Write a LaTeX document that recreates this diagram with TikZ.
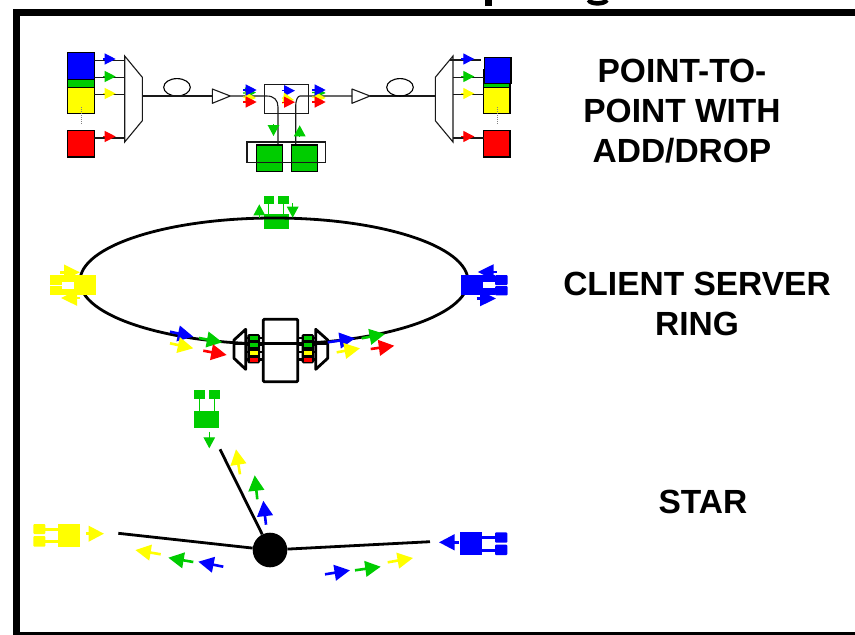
\documentclass[tikz,border=0pt]{standalone}
\usepackage{fontspec}
\setmainfont{Liberation Sans}
\usetikzlibrary{arrows.meta,shapes.geometric}
\definecolor{cb}{HTML}{0000FF}
\definecolor{cg}{HTML}{00CC00}
\definecolor{cy}{HTML}{FFFF00}
\definecolor{cr}{HTML}{FF0000}
\tikzset{
  box/.style={inner sep=0pt,outer sep=0pt,rectangle},
  thin line/.style={line width=1.1pt,black!90},
  outlined/.style={draw=black,line width=1.1pt},
  thick line/.style={line width=2.8pt,black},
  small arrow/.style={line width=1.2pt,-{Triangle[length=11pt,width=11pt]}},
  big arrow/.style={line width=2.6pt,-{Triangle[length=15.5pt,width=15.5pt]}},
  mid arrow/.style={line width=1.2pt,-{Triangle[length=11pt,width=11.5pt]}},
  node arrow/.style={line width=2.4pt,-{Triangle[length=16pt,width=15pt]}},
  label text/.style={font=\fontsize{33.5}{40}\selectfont\bfseries,align=center,inner sep=0pt}
}
\newcommand{\bx}[6]{\node[box,#2,minimum width={(#5)-(#3)},minimum height={(#6)-(#4)}] (#1) at ({((#3)+(#5))/2},{((#4)+(#6))/2}) {};}
\begin{document}
\begin{tikzpicture}[x=1pt,y=-1pt]
\useasboundingbox (0,0) rectangle (855,635);
% frame
\fill[black] (12.5,9) rectangle (855,16);
\fill[black] (12.5,9) rectangle (20,635);
\fill[black] (12.5,631.5) rectangle (855,635);
% descenders of the cut-off title
\fill[black] (485,0) rectangle (492,5.5);
\draw[black,line width=4.5pt] (588.5,0) .. controls (591,4.5) and (604,4.5) .. (607,0);

%%%%% point-to-point
\bx{gL}{fill=cg,outlined}{67.7}{70}{94.3}{96}
\bx{bL}{fill=cb,outlined}{67.7}{52.7}{94.3}{79.3}
\bx{yL}{fill=cy,outlined}{67.7}{87.3}{94.3}{113.7}
\bx{rL}{fill=cr,outlined}{67.7}{130.3}{94.3}{157}
\draw[gray,line width=1pt,densely dotted] (81,107) -- (81,125);
\draw[thin line] (124.7,56) -- (142.3,77.3) -- (142.3,120.7) -- (124.7,142) -- cycle;
\coordinate (mLo) at (142.3,96);
\coordinate (ampLin) at (212.3,96);
\coordinate (ampLout) at (230.3,96);
\draw[thin line] (94.3,60.3) -- (124.7,60.3);
\draw[thin line] (94.3,77.7) -- (124.7,77.7);
\draw[thin line] (94.3,94.7) -- (124.7,94.7);
\draw[thin line] (94.3,138) -- (124.7,138);
\draw[small arrow,cb] (103,59) -- (115.7,59);
\draw[small arrow,cg] (103,76.5) -- (115.7,76.5);
\draw[small arrow,cy] (103,93.5) -- (115.7,93.5);
\draw[small arrow,cr] (103,136.5) -- (115.7,136.5);
\node[ellipse,outlined,inner sep=0pt,minimum width=26.6pt,minimum height=17.4pt] (coilL) at (177,87.3) {};
\draw[thin line] (mLo) -- (ampLin);
\draw[thin line,line join=round] (212.3,89) -- (230.3,96) -- (212.3,103.3) -- cycle;
\draw[thin line] (ampLout) -- (266.7,96) .. controls (274,96) and (278,100) .. (278,107) -- (278,145) coordinate (dropL);
\draw[thin line] (264.3,84.3) rectangle (308.3,113.3);
\coordinate (ampRin) at (352,96);
\coordinate (ampRout) at (370,96);
\coordinate (mRi) at (435.3,96);
\draw[thin line] (ampRout) -- (mRi);
\draw[thin line] (ampRin) -- (300,96) .. controls (298,96) and (295.7,99) .. (295.7,107) -- (295.7,145) coordinate (dropR);
\draw[thin line,line join=round] (352,89) -- (370,96) -- (352,103.3) -- cycle;
\node[ellipse,outlined,inner sep=0pt,minimum width=26.6pt,minimum height=17.4pt] (coilR) at (400,87.3) {};
% add/drop arrows
\draw[small arrow,cg] (243,93) -- (256,92.5);
\draw[small arrow,cy] (243,97) -- (256,98);
\draw[small arrow,cb] (243,90) -- (256.7,90);
\draw[small arrow,cr] (243,102) -- (256.7,102);
\draw[small arrow,cb] (282,90.7) -- (295,90.7);
\draw[small arrow,cy] (282,98) -- (294,100);
\draw[small arrow,cr] (282,102.2) -- (295,102.2);
\draw[small arrow,cg] (312,92.5) -- (325.7,93);
\draw[small arrow,cy] (312,97) -- (325.7,98);
\draw[small arrow,cb] (312,90) -- (325.7,90);
\draw[small arrow,cr] (312,102) -- (325.7,102);
% drop boxes
\bx{dropG1}{fill=cg,outlined}{256.3}{145}{282.7}{171.7}
\bx{dropG2}{fill=cg,outlined}{291.3}{145}{317.7}{171.7}
\draw[thin line] (247,142) rectangle (325.7,162.3);
\draw[mid arrow,cg] (273.5,124) -- (273.5,136);
\draw[mid arrow,cg] (299.7,137) -- (299.7,125.3);
% right side
\bx{gR}{fill=cg,outlined}{483.7}{70}{510}{96}
\bx{bR}{fill=cb,outlined}{484.3}{57.3}{511}{83.7}
\bx{yR}{fill=cy,outlined}{483.7}{87.3}{510}{113.7}
\bx{rR}{fill=cr,outlined}{483.7}{130.3}{510}{157}
\draw[gray,line width=1pt,densely dotted] (497,107) -- (497,125);
\draw[thin line] (453,56) -- (435.3,77.3) -- (435.3,120.7) -- (453,142) -- cycle;
\draw[thin line] (450,60) -- (481,60);
\draw[thin line] (453,77.7) -- (483.7,77.7);
\draw[thin line] (453,94.7) -- (483.7,94.7);
\draw[thin line] (453,138) -- (483.7,138);
\draw[small arrow,cb] (461,59) -- (474.3,59);
\draw[small arrow,cg] (461,76.5) -- (474.3,76.5);
\draw[small arrow,cy] (461,93.5) -- (474.3,93.5);
\draw[small arrow,cr] (461,136.5) -- (474.3,136.5);

%%%%% ring
\bx{gT}{fill=cg}{263.7}{214.3}{288.7}{229.3}
\bx{gTa}{fill=cg}{263.7}{196}{274}{204}
\bx{gTb}{fill=cg}{278.3}{196}{288.7}{204}
\draw[cg,line width=1pt] (268.8,204) -- (268.8,214.3);
\draw[cg,line width=1pt] (283.5,204) -- (283.5,214.3);
\draw[black,line width=2.8pt] (274,281) ellipse [x radius=194,y radius=63];
\draw[mid arrow,cg] (259.3,218) -- (259.3,204.3);
\draw[mid arrow,cg] (292.7,203) -- (292.7,217.7);
% yellow ring node
\bx{yN}{fill=cy}{74}{275}{95.7}{295.3}
\bx{yNa}{fill=cy}{50}{275}{62}{285}
\bx{yNb}{fill=cy}{50}{286}{62}{295.3}
\fill[cy] (62,275) rectangle (74,281.7);
\fill[cy] (62,289) rectangle (74,295.3);
\draw[node arrow,cy] (60,272.3) -- (80,272.3);
\draw[node arrow,cy] (80,298) -- (61,298);
% blue ring node
\bx{bN}{fill=cb}{461.3}{275}{483.3}{295}
\bx{bNa}{fill=cb,rounded corners=1pt}{495}{275}{507.7}{285}
\bx{bNb}{fill=cb,rounded corners=1pt}{495}{286}{507.7}{295.3}
\fill[cb] (483.3,275) rectangle (495,281.7);
\fill[cb] (483.3,288.3) rectangle (495,295);
\draw[node arrow,cb] (496.7,272) -- (477.7,272);
\draw[node arrow,cb] (476.7,298.5) -- (496,298.5);
% hub at the bottom of the ring
\bx{hubBox}{fill=white,draw=black,line width=2.8pt,rounded corners=1pt}{263.3}{319.3}{297.7}{381.7}
\draw[thick line] (234,343.8) -- (327.7,343.8);
\draw[thick line,line join=round] (245.7,329.3) -- (234,340) -- (234,358.3) -- (245.7,369.3) -- cycle;
\draw[thick line,line join=round] (315.7,329.3) -- (327.7,340) -- (327.7,358.3) -- (315.7,369.3) -- cycle;
\foreach \yy in {338,345.2,352.2,359.4} {
  \draw[line width=2.2pt] (245.7,\yy) -- (263.3,\yy);
  \draw[line width=2.2pt] (297.7,\yy) -- (315.7,\yy);
}
\bx{rackL}{fill=black,rounded corners=1.5pt}{247.3}{334}{260}{363.4}
\bx{rackR}{fill=black,rounded corners=1.5pt}{301.7}{334}{314}{363.4}
\foreach \xa/\xb in {250/257.7,303.9/311.6} {
  \fill[cg] (\xa,336) rectangle (\xb,340.2);
  \fill[cg] (\xa,343.2) rectangle (\xb,347.4);
  \fill[cy] (\xa,350.6) rectangle (\xb,354.8);
  \fill[cr] (\xa,357.6) rectangle (\xb,362);
}
\draw[big arrow,cb] (170,331.7) -- (193.3,336.7);
\draw[big arrow,cy] (170,343.3) -- (193.3,348.3);
\draw[big arrow,cg] (199,338) -- (222.3,342.3);
\draw[big arrow,cr] (203.3,350.7) -- (226.7,355);
\draw[big arrow,cb] (327.7,342.3) -- (355,338.3);
\draw[big arrow,cg] (361.7,338.3) -- (385,334);
\draw[big arrow,cy] (336.7,352.3) -- (360,348.3);
\draw[big arrow,cr] (370.7,349) -- (394.3,345.7);

%%%%% star
\node[circle,fill=black,inner sep=0pt,minimum size=34.6pt] (hub) at (270,550) {};
\coordinate (endT) at (220,449.3);
\coordinate (endL) at (118.3,533.3);
\coordinate (endR) at (430,541.7);
\draw[thick line] (hub) -- (endT);
\draw[thick line] (hub) -- (endL);
\draw[thick line] (hub) -- (endR);
% green
\bx{sG}{fill=cg}{194}{410.7}{219.3}{428.3}
\bx{sGa}{fill=cg}{194}{390}{204.7}{399}
\bx{sGb}{fill=cg}{209}{390}{220}{399}
\draw[cg,line width=1pt] (199,399) -- (199,410.7);
\draw[cg,line width=1pt] (214,399) -- (214,410.7);
\draw[mid arrow,cg] (209.3,431.7) -- (209.3,448.3);
% yellow
\bx{sY}{fill=cy}{58}{524}{80}{546.7}
\bx{sYa}{fill=cy,rounded corners=1pt}{33.3}{524}{45.3}{534}
\bx{sYb}{fill=cy,rounded corners=1pt}{33.3}{536}{45.3}{546.7}
\draw[cy,line width=3pt] (45.3,529) -- (58,529);
\draw[cy,line width=3pt] (45.3,541) -- (58,541);
\draw[big arrow,cy] (85.7,533.7) -- (104,533.7);
% blue
\bx{sB}{fill=cb}{459.7}{532.3}{482}{555}
\bx{sBa}{fill=cb,rounded corners=1pt}{495}{532.3}{507.3}{542.7}
\bx{sBb}{fill=cb,rounded corners=1pt}{495}{544.7}{507.3}{555}
\draw[cb,line width=3pt] (482,537.3) -- (495,537.3);
\draw[cb,line width=3pt] (482,550) -- (495,550);
\draw[big arrow,cb] (459.3,542.3) -- (439,542.3);
% signal arrows
\draw[big arrow,cy] (240,474.3) -- (236,449.3);
\draw[big arrow,cg] (257.3,499.3) -- (254.7,475.3);
\draw[big arrow,cb] (266,524.7) -- (263.3,500.7);
\draw[big arrow,cy] (160.7,554.3) -- (135.3,550);
\draw[big arrow,cg] (193.3,562) -- (168.3,557.7);
\draw[big arrow,cb] (223.3,566.7) -- (198.3,561.7);
\draw[big arrow,cb] (325,574.3) -- (350,570.3);
\draw[big arrow,cg] (355,570.3) -- (380.7,566.7);
\draw[big arrow,cy] (387.7,562.3) -- (413,558);

%%%%% labels
\node[label text] (lab1) at (682,111.5) {POINT-TO-\\POINT WITH\\ADD/DROP};
\node[label text] (lab2) at (697,303.5) {CLIENT SERVER\\RING};
\node[label text] (lab3) at (703,502) {STAR};
\end{tikzpicture}
\end{document}
